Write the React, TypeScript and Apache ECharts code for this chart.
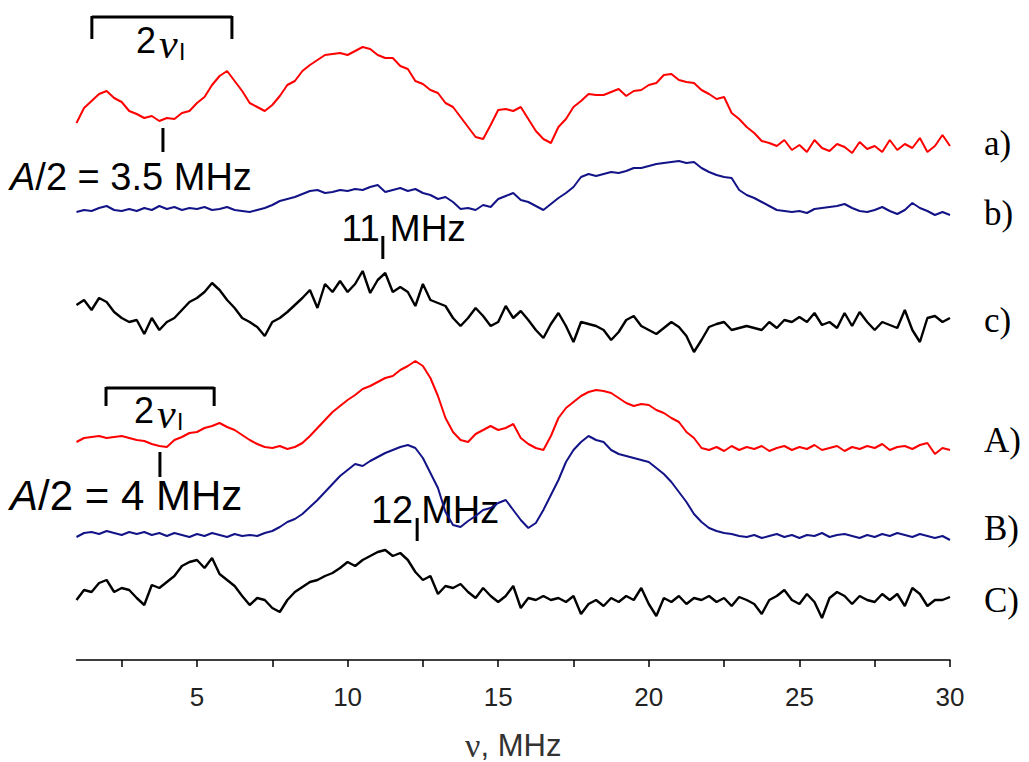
import React, { useEffect, useRef } from "react";
import * as echarts from "echarts";

// Frequency grid (MHz) of all traces
const FREQ_START = 1;
const FREQ_STEP = 0.25;

// Trace values in plot units (offset stacked spectra, larger = lower on page)
const trace_a = [
  123, 108, 101, 94, 91, 98, 102, 111, 114, 118, 116, 121, 118, 119, 113, 111,
  103, 97, 85, 76, 71, 81, 91, 103, 107, 111, 105, 96, 85, 81, 71, 65,
  60, 55, 54, 53, 55, 51, 47, 49, 55, 58, 58, 66, 69, 81, 84, 90,
  93, 103, 107, 117, 127, 137, 139, 125, 110, 109, 111, 107, 119, 131, 139, 143,
  127, 119, 107, 101, 94, 95, 95, 92, 89, 96, 91, 90, 85, 83, 75, 74,
  80, 82, 83, 90, 94, 99, 97, 113, 119, 127, 133, 141, 143, 146, 140, 150,
  145, 152, 140, 148, 151, 144, 147, 153, 142, 149, 146, 152, 140, 150, 144, 148,
  138, 152, 146, 135, 146,
];
const trace_b = [
  212, 210, 211, 208, 206, 210, 211, 209, 211, 208, 210, 206, 209, 207, 210, 208,
  209, 207, 210, 209, 207, 210, 211, 212, 210, 208, 205, 201, 199, 197, 194, 191,
  190, 193, 192, 190, 191, 189, 190, 187, 185, 192, 190, 188, 191, 189, 193, 195,
  199, 197, 202, 209, 208, 210, 205, 207, 199, 196, 193, 200, 202, 206, 210, 204,
  198, 193, 187, 177, 174, 176, 174, 172, 173, 171, 168, 168, 166, 164, 163, 162,
  161, 163, 162, 168, 172, 175, 177, 178, 190, 195, 198, 202, 206, 210, 211, 212,
  211, 213, 209, 208, 207, 206, 204, 208, 211, 212, 210, 207, 211, 214, 210, 203,
  208, 211, 215, 212, 215,
];
const trace_c = [
  305, 300, 310, 298, 302, 312, 318, 322, 320, 334, 318, 330, 322, 318, 310, 302,
  298, 292, 283, 290, 300, 308, 318, 322, 327, 336, 322, 318, 312, 305, 298, 290,
  308, 284, 292, 281, 292, 284, 271, 293, 280, 273, 292, 287, 292, 306, 284, 300,
  303, 306, 318, 326, 318, 308, 316, 326, 322, 306, 318, 311, 320, 330, 338, 324,
  313, 326, 342, 322, 324, 326, 330, 340, 332, 320, 316, 326, 330, 334, 328, 322,
  327, 336, 352, 340, 327, 324, 322, 330, 328, 326, 328, 330, 322, 328, 320, 322,
  317, 322, 313, 325, 322, 328, 313, 326, 312, 322, 330, 322, 325, 328, 310, 330,
  342, 318, 316, 322, 318,
];
const trace_A = [
  442, 438, 437, 436, 438, 437, 436, 438, 440, 441, 444, 446, 447, 440, 437, 433,
  432, 428, 426, 423, 427, 430, 435, 440, 444, 447, 448, 446, 449, 447, 443, 436,
  428, 420, 412, 406, 400, 395, 389, 386, 382, 378, 376, 370, 366, 361, 366, 378,
  396, 418, 432, 440, 442, 434, 430, 426, 430, 428, 424, 438, 444, 448, 450, 436,
  418, 408, 402, 396, 392, 390, 391, 393, 398, 403, 406, 404, 405, 410, 413, 418,
  422, 432, 438, 448, 450, 447, 451, 446, 450, 447, 449, 446, 451, 448, 446, 450,
  447, 449, 445, 450, 448, 446, 451, 447, 449, 446, 448, 444, 450, 447, 446, 449,
  445, 443, 454, 448, 450,
];
const trace_B = [
  537, 533, 532, 534, 531, 533, 535, 532, 534, 532, 535, 533, 536, 533, 535, 537,
  534, 536, 533, 535, 537, 534, 536, 535, 536, 533, 531, 527, 522, 519, 514, 507,
  500, 492, 484, 476, 470, 464, 466, 461, 457, 453, 450, 447, 445, 448, 458, 473,
  488, 512, 525, 527, 521, 516, 510, 508, 503, 500, 510, 520, 528, 523, 510, 495,
  480, 462, 450, 442, 436, 440, 442, 450, 454, 456, 458, 460, 462, 468, 474, 482,
  492, 502, 514, 522, 528, 531, 533, 534, 536, 537, 535, 538, 536, 534, 537, 535,
  538, 535, 536, 533, 537, 535, 534, 536, 538, 535, 537, 534, 536, 533, 535, 537,
  534, 536, 538, 536, 540,
];
const trace_C = [
  600, 590, 592, 583, 580, 592, 588, 590, 598, 605, 585, 588, 582, 576, 566, 562,
  560, 568, 558, 574, 580, 586, 596, 605, 598, 600, 608, 612, 600, 592, 587, 582,
  580, 576, 573, 568, 562, 566, 560, 556, 552, 550, 556, 553, 560, 572, 580, 576,
  594, 586, 588, 584, 592, 598, 588, 596, 602, 596, 586, 608, 598, 600, 596, 600,
  598, 602, 596, 614, 604, 600, 606, 598, 602, 596, 600, 588, 604, 616, 598, 602,
  596, 604, 598, 600, 596, 602, 598, 606, 597, 600, 604, 614, 600, 596, 590, 600,
  604, 594, 602, 618, 598, 592, 596, 604, 596, 600, 602, 594, 600, 594, 606, 588,
  594, 606, 600, 600, 597,
];

const traceNames = ["a)", "b)", "c)", "A)", "B)", "C)"];
const traceValues = [trace_a, trace_b, trace_c, trace_A, trace_B, trace_C];

// Axis ticks
const xTickValues = [2.5, 5, 7.5, 10, 12.5, 15, 17.5, 20, 22.5, 25, 27.5, 30];
const xLabelValues = [5, 10, 15, 20, 25, 30];

// Styles / layout (not data)
const RED = "#ff0000";
const NAVY = "#131388";
const BLACK = "#000000";
const traceColors = [RED, NAVY, BLACK, RED, NAVY, BLACK];
const traceWidths = [2, 2, 2.4, 2, 2, 2.4];
const labelYs = [143, 213, 320, 440, 528, 600];

const SANS = "Liberation Sans";
const SERIF = "Liberation Serif";

export default function App() {
  const ref = useRef<HTMLDivElement>(null);

  useEffect(() => {
    if (!ref.current) return;
    const chart = echarts.init(ref.current, undefined, { renderer: "svg" });

    const series = traceValues.map((vals, k) => ({
      name: traceNames[k],
      type: "line",
      showSymbol: false,
      symbol: "none",
      silent: true,
      data: vals.map((v, i) => [FREQ_START + i * FREQ_STEP, v]),
      lineStyle: { color: traceColors[k], width: traceWidths[k] },
      itemStyle: { color: traceColors[k] },
    }));

    chart.setOption({
      animation: false,
      backgroundColor: "#ffffff",
      grid: {
        left: 76.5,
        right: 79,
        top: 0,
        bottom: 102,
        containLabel: false,
        outerBoundsMode: "none",
      },
      xAxis: {
        type: "value",
        position: "bottom",
        min: 1,
        max: 30,
        axisLine: { show: true, onZero: false, lineStyle: { color: "#000", width: 1.5 } },
        axisTick: {
          show: true,
          inside: false,
          customValues: xTickValues,
          length: 7,
          lineStyle: { color: "#000", width: 1.5 },
        },
        axisLabel: {
          customValues: xLabelValues,
          fontSize: 26,
          fontFamily: SANS,
          color: "#222",
          margin: 24,
        },
        splitLine: { show: false },
        name: "{n|ν}{m|, MHz}",
        nameLocation: "middle",
        nameGap: 68,
        nameTextStyle: {
          color: "#333",
          fontSize: 32,
          rich: {
            n: { fontFamily: SERIF, fontSize: 34, color: "#333" },
            m: { fontFamily: SANS, fontSize: 31, color: "#333" },
          },
        },
      },
      yAxis: {
        type: "value",
        inverse: true,
        min: 0,
        max: 660,
        show: false,
      },
      series,
    });

    const xp = (mhz: number) => chart.convertToPixel({ xAxisIndex: 0 }, mhz) as number;
    const yp = (v: number) => chart.convertToPixel({ yAxisIndex: 0 }, v) as number;

    const seg = (x1: number, y1: number, x2: number, y2: number, w = 3) => ({
      type: "line",
      shape: { x1, y1, x2, y2 },
      style: { stroke: "#000", lineWidth: w },
      silent: true,
    });
    const txt = (x: number, y: number, text: string, fontSize: number, extra: any = {}) => ({
      type: "text",
      x,
      y,
      silent: true,
      style: {
        text,
        fill: "#000",
        fontSize,
        fontFamily: SANS,
        align: "left",
        verticalAlign: "middle",
        ...extra,
      },
    });

    const g: any[] = [];
    // top bracket 2ν_I
    const b1 = xp(1.51), b2 = xp(6.16);
    g.push(seg(b1, yp(17), b2, yp(17)));
    g.push(seg(b1, yp(16), b1, yp(39)));
    g.push(seg(b2, yp(16), b2, yp(39)));
    g.push(txt(136, 40, "2", 36));
    g.push(txt(159, 44, "ν", 42, { fontFamily: SERIF, fontStyle: "italic" }));
    g.push(txt(179, 52, "I", 23));
    // A/2 tick (a)
    const t1 = xp(3.87);
    g.push(seg(t1, yp(128), t1, yp(152)));
    g.push(
      txt(10, 177, "{i|A}/2 = 3.5 MHz", 38, {
        rich: { i: { fontStyle: "italic", fontSize: 38, fontFamily: SANS, fill: "#000" } },
      })
    );
    // 11 MHz
    const t11 = xp(11.17);
    g.push(seg(t11, yp(236), t11, yp(259)));
    g.push(txt(t11 - 3, 228, "11", 37, { align: "right" }));
    g.push(txt(t11 + 7, 228, "MHz", 37));
    // lower bracket
    const c1 = xp(1.98), c2 = xp(5.57);
    g.push(seg(c1, yp(388), c2, yp(388)));
    g.push(seg(c1, yp(387), c1, yp(406)));
    g.push(seg(c2, yp(387), c2, yp(406)));
    g.push(txt(134, 410, "2", 36));
    g.push(txt(157, 414, "ν", 42, { fontFamily: SERIF, fontStyle: "italic" }));
    g.push(txt(177, 422, "I", 23));
    // A/2 tick (A)
    const t2 = xp(3.77);
    g.push(seg(t2, yp(452), t2, yp(477)));
    g.push(
      txt(10, 495, "{i|A}/2 = 4 MHz", 42, {
        rich: { i: { fontStyle: "italic", fontSize: 42, fontFamily: SANS, fill: "#000" } },
      })
    );
    // 12 MHz
    const t12 = xp(12.31);
    g.push(seg(t12, yp(518), t12, yp(541)));
    g.push(txt(t12 - 4, 510, "12", 38, { align: "right" }));
    g.push(txt(t12 + 4, 510, "MHz", 38));
    // right-hand trace labels
    traceNames.forEach((n, k) => {
      g.push(txt(984, labelYs[k], n, 35, { fontFamily: SERIF }));
    });

    chart.setOption({ graphic: { elements: g } });

    return () => chart.dispose();
  }, []);

  return (
    <div
      ref={ref}
      style={{ position: "absolute", left: 0, top: 0, width: 1029, height: 762, background: "#fff" }}
    />
  );
}
